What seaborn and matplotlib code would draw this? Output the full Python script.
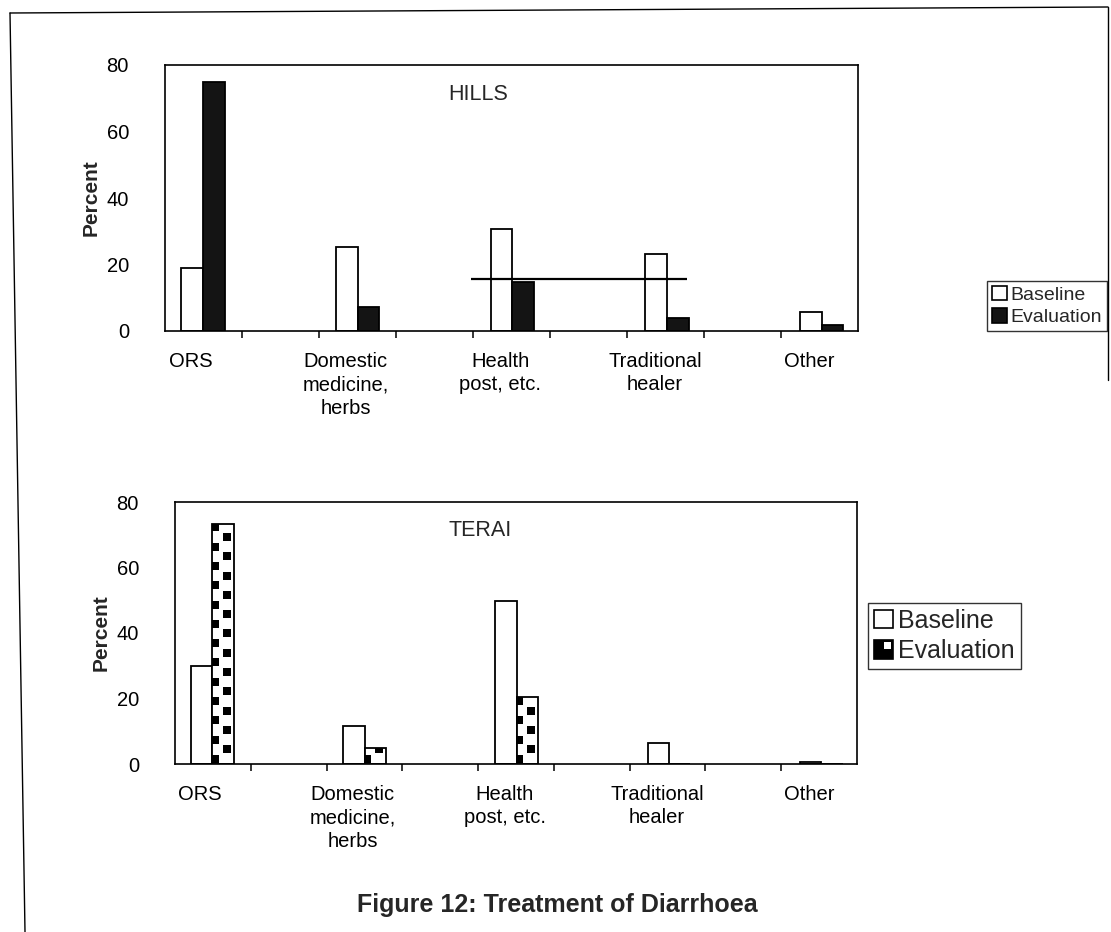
import numpy as np
import pandas as pd
import matplotlib
matplotlib.use("Agg")
import matplotlib.pyplot as plt
import seaborn as sns
from matplotlib.patches import Patch, Rectangle
from matplotlib.lines import Line2D
from matplotlib.legend_handler import HandlerBase
import matplotlib.transforms as mtransforms

# ---------------- data ----------------
categories = ["ORS", "Domestic\nmedicine,\nherbs", "Health\npost, etc.",
              "Traditional\nhealer", "Other"]
series = ["Baseline", "Evaluation"]
hills_baseline = [19, 25.4, 30.7, 23.2, 5.7]
hills_evaluation = [75, 7.2, 14.6, 3.9, 1.8]
terai_baseline = [30, 11.7, 49.8, 6.4, 0.7]
terai_evaluation = [73.2, 4.9, 20.5, 0, 0]
y_ticks = [0, 20, 40, 60, 80]
hills_stray_line = 15.7   # scan artefact across the HILLS panel
title = "Figure 12: Treatment of Diarrhoea"

def long_df(base, ev):
    return pd.DataFrame({
        "category": categories * 2,
        "survey": ["Baseline"] * len(categories) + ["Evaluation"] * len(categories),
        "value": list(base) + list(ev),
    })

# ---------------- style ----------------
sns.set_theme(style="white")
plt.rcParams["font.family"] = ["Liberation Sans", "DejaVu Sans"]

W, H = 1111, 932
fig = plt.figure(figsize=(W / 100, H / 100), dpi=100)

def frac_box(l, t, r, b):
    return [l / W, 1 - b / H, (r - l) / W, (b - t) / H]

ax1 = fig.add_axes(frac_box(165, 65, 858, 331))
ax2 = fig.add_axes(frac_box(175, 502, 857, 764))

XLIM = (-0.245, 4.235)
TICK_FS = 14.5


class CheckerHandler(HandlerBase):
    def create_artists(self, legend, orig_handle, xdescent, ydescent,
                       width, height, fontsize, trans):
        s = min(width, height)
        x0 = -xdescent + (width - s) / 2
        y0 = -ydescent
        return [Rectangle((x0, y0), s, s, facecolor="black", edgecolor="black",
                          lw=1.2, transform=trans),
                Rectangle((x0 + s * 0.5, y0 + s * 0.5), s * 0.42, s * 0.42,
                          facecolor="white", edgecolor="none", transform=trans)]


class SquareHandler(HandlerBase):
    def create_artists(self, legend, orig_handle, xdescent, ydescent,
                       width, height, fontsize, trans):
        s = min(width, height)
        x0 = -xdescent + (width - s) / 2
        y0 = -ydescent
        return [Rectangle((x0, y0), s, s, facecolor=orig_handle.get_facecolor(),
                          edgecolor="black", lw=1.2, transform=trans)]


def draw_panel(ax, base, ev, name, name_x, eval_color, checker,
               legend_loc, legend_pos, legend_fs):
    df = long_df(base, ev)
    sns.barplot(data=df, x="category", y="value", hue="survey",
                hue_order=series,
                palette={"Baseline": "white", "Evaluation": eval_color},
                edgecolor="black", linewidth=1.3, width=0.28, gap=0,
                saturation=1, legend=False, ax=ax, errorbar=None)
    ax.set_xlim(*XLIM)
    ax.set_ylim(0, 80)
    ax.set_yticks(y_ticks)
    ax.set_yticklabels([str(v) for v in y_ticks], fontsize=TICK_FS)
    ax.tick_params(axis="y", length=0, pad=26, colors="black")
    ax.set_xticks(range(len(categories)))
    ax.set_xticklabels(categories, fontsize=TICK_FS, linespacing=1.3)
    ax.tick_params(axis="x", which="major", length=0, pad=15, colors="black")
    # minor tick marks dividing the axis in 9 equal parts
    edges = np.linspace(XLIM[0], XLIM[1], 10)[1:-1]
    ax.set_xticks(edges, minor=True)
    ax.tick_params(axis="x", which="minor", length=5, width=1.1,
                   direction="out", color="black", bottom=True)
    offset = mtransforms.ScaledTranslation(-12 / 100, 0, fig.dpi_scale_trans)
    for lab in ax.get_xticklabels():
        lab.set_transform(lab.get_transform() + offset)
    ax.set_xlabel("")
    ax.set_ylabel("Percent", fontsize=15, fontweight="bold", labelpad=4)
    for sp in ax.spines.values():
        sp.set_visible(True)
        sp.set_color("black")
        sp.set_linewidth(1.2)
    ax.text(name_x, 0.89, name, transform=ax.transAxes, ha="center",
            va="center", fontsize=15.5)

    patches = [p for p in ax.patches if isinstance(p, Rectangle)]
    eval_patches = patches[len(categories):2 * len(categories)]
    if checker:
        for p in eval_patches:
            x, w, h = p.get_x(), p.get_width(), p.get_height()
            if h <= 0.5:
                continue
            period = 5.9
            cols = [(x + w * 0.12, 0.0), (x + w * 0.68, period / 2)]
            for cx, off in cols:
                ys = np.arange(off + 1.5, h, period)
                mk, = ax.plot([cx] * len(ys), ys, linestyle="none", marker="s",
                              markersize=5.2, color="black", markeredgewidth=0)
                mk.set_clip_path(p)
        handles = [Patch(facecolor="white"), Patch(facecolor="black")]
        hmap = {handles[0]: SquareHandler(), handles[1]: CheckerHandler()}
    else:
        handles = [Patch(facecolor="white"), Patch(facecolor=eval_color)]
        hmap = {handles[0]: SquareHandler(), handles[1]: SquareHandler()}
    leg = fig.legend(handles, series, handler_map=hmap, loc=legend_loc,
                     bbox_to_anchor=legend_pos, fontsize=legend_fs,
                     frameon=True, fancybox=False, edgecolor="black",
                     handlelength=0.75, handleheight=0.75, handletextpad=0.2,
                     borderpad=0.25, labelspacing=0.25, borderaxespad=0)
    leg.get_frame().set_linewidth(1.0)
    return ax


draw_panel(ax1, hills_baseline, hills_evaluation, "HILLS", 0.452, "#141414",
           False, "center right", (1107 / W, 1 - 306 / H), 14)
draw_panel(ax2, terai_baseline, terai_evaluation, "TERAI", 0.447, "white",
           True, "center left", (868 / W, 1 - 636 / H), 18)

# scan artefact line in the HILLS panel
ax1.hlines(hills_stray_line, 1.735, 3.13, color="black", lw=1.6)

fig.text(557 / W, 1 - 905 / H, title, ha="center", va="center",
         fontsize=18, fontweight="bold")

# page border (skewed scan frame)
fig.add_artist(Line2D([10 / W, 1108 / W], [1 - 13 / H, 1 - 7 / H],
                      transform=fig.transFigure, color="black", lw=1.0))
fig.add_artist(Line2D([10 / W, 25 / W], [1 - 13 / H, 0],
                      transform=fig.transFigure, color="black", lw=1.0))
fig.add_artist(Line2D([1108 / W, 1108 / W], [1 - 7 / H, 1 - 380 / H],
                      transform=fig.transFigure, color="black", lw=1.0))

fig.savefig("out.png", dpi=100, facecolor="white")
